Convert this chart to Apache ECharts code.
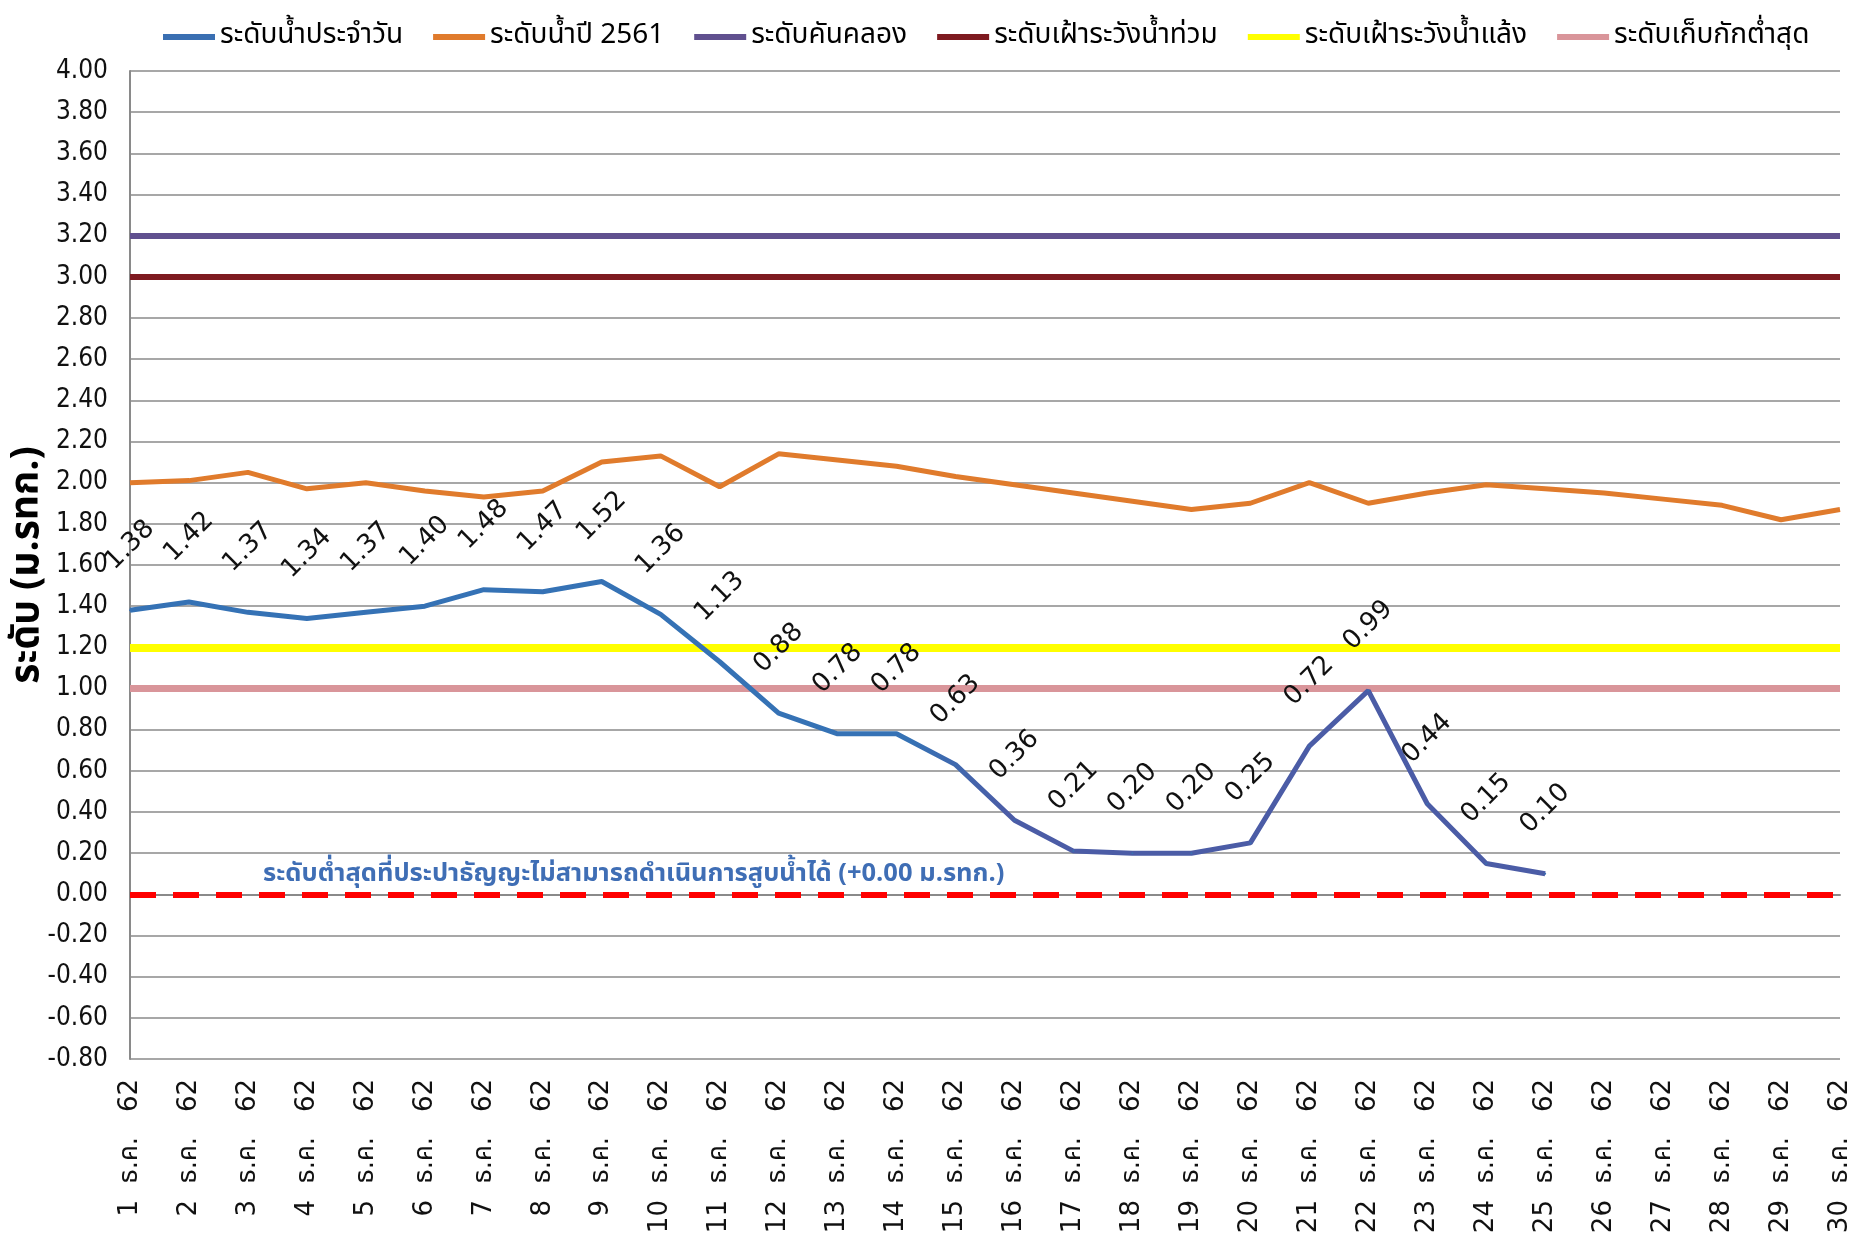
<!DOCTYPE html>
<html>
<head>
<meta charset="utf-8">
<title>ระดับน้ำ ธ.ค. 62</title>
<script src="https://cdn.jsdelivr.net/npm/echarts@6/dist/echarts.min.js"></script>
<style>
  html, body { margin: 0; padding: 0; background: #fff; }
  #chart { width: 1859px; height: 1251px; }
</style>
</head>
<body>
<div id="chart"></div>
<script>
// วันที่ (แกน X)
var days = [
  '1  ธ.ค.   62', '2  ธ.ค.   62', '3  ธ.ค.   62', '4  ธ.ค.   62', '5  ธ.ค.   62',
  '6  ธ.ค.   62', '7  ธ.ค.   62', '8  ธ.ค.   62', '9  ธ.ค.   62', '10  ธ.ค.   62',
  '11  ธ.ค.   62', '12  ธ.ค.   62', '13  ธ.ค.   62', '14  ธ.ค.   62', '15  ธ.ค.   62',
  '16  ธ.ค.   62', '17  ธ.ค.   62', '18  ธ.ค.   62', '19  ธ.ค.   62', '20  ธ.ค.   62',
  '21  ธ.ค.   62', '22  ธ.ค.   62', '23  ธ.ค.   62', '24  ธ.ค.   62', '25  ธ.ค.   62',
  '26  ธ.ค.   62', '27  ธ.ค.   62', '28  ธ.ค.   62', '29  ธ.ค.   62', '30  ธ.ค.   62'
];

// ระดับน้ำประจำวัน
var dailyLevel = [
  1.38, 1.42, 1.37, 1.34, 1.37, 1.40, 1.48, 1.47, 1.52, 1.36,
  1.13, 0.88, 0.78, 0.78, 0.63, 0.36, 0.21, 0.20, 0.20, 0.25,
  0.72, 0.99, 0.44, 0.15, 0.10, null, null, null, null, null
];

// ระดับน้ำปี 2561
var level2561 = [
  2.00, 2.01, 2.05, 1.97, 2.00, 1.96, 1.93, 1.96, 2.10, 2.13,
  1.98, 2.14, 2.11, 2.08, 2.03, 1.99, 1.95, 1.91, 1.87, 1.90,
  2.00, 1.90, 1.95, 1.99, 1.97, 1.95, 1.92, 1.89, 1.82, 1.87
];

// ระดับอ้างอิง
var bankLevel = 3.20;
var floodWatch = 3.00;
var droughtWatch = 1.20;
var minStorage = 1.00;
var pumpMin = 0.00;

var yMin = -0.8, yMax = 4.0, yStep = 0.2;

var thaiFont = 'Tahoma, "Noto Sans Thai", "Noto Sans", sans-serif';

function refLine(name, value, color, width) {
  return {
    name: name,
    type: 'line',
    data: [],
    color: color,
    lineStyle: { color: color, width: width },
    itemStyle: { color: color },
    markLine: {
      silent: true,
      symbol: 'none',
      label: { show: false },
      lineStyle: { color: color, width: width, type: 'solid' },
      emphasis: { disabled: true },
      data: [{ yAxis: value }]
    }
  };
}

var chart = echarts.init(document.getElementById('chart'));

var option = {
  backgroundColor: '#fff',
  animation: false,
  legend: {
    top: 18,
    left: 158,
    icon: 'rect',
    itemWidth: 52,
    itemHeight: 6,
    itemGap: 30,
    textStyle: { fontSize: 28, color: '#000', fontFamily: thaiFont },
    data: ['ระดับน้ำประจำวัน', 'ระดับน้ำปี 2561', 'ระดับคันคลอง',
           'ระดับเฝ้าระวังน้ำท่วม', 'ระดับเฝ้าระวังน้ำแล้ง', 'ระดับเก็บกักต่ำสุด']
  },
  grid: { left: 130, right: 19, top: 71, bottom: 192, containLabel: false, outerBoundsMode: 'none' },
  xAxis: {
    type: 'category',
    boundaryGap: false,
    data: days,
    axisLine: { lineStyle: { color: '#8a8a8a', width: 2 } },
    axisTick: { show: false },
    axisLabel: {
      interval: 0,
      rotate: 90,
      margin: 20,
      fontSize: 26,
      color: '#111',
      fontFamily: '"DejaVu Sans", ' + thaiFont
    }
  },
  yAxis: {
    type: 'value',
    min: yMin,
    max: yMax,
    interval: yStep,
    name: 'ระดับ (ม.รทก.)',
    nameLocation: 'middle',
    nameGap: 100,
    nameMoveOverlap: false,
    nameTextStyle: {
      fontSize: 39, fontWeight: 'bold', color: '#000', fontFamily: thaiFont,
      verticalAlign: 'middle'
    },
    axisLine: { show: true, lineStyle: { color: '#8a8a8a', width: 2 } },
    axisTick: { show: false },
    axisLabel: {
      margin: 22,
      fontSize: 26,
      color: '#111',
      fontFamily: '"DejaVu Sans Condensed", "Liberation Sans Narrow", sans-serif',
      formatter: function (v) {
        if (Math.abs(v) < 1e-9) v = 0;
        return v.toFixed(2);
      }
    },
    splitLine: { lineStyle: { color: '#8a8a8a', width: 1.5 } }
  },
  series: [
    {
      name: 'ระดับน้ำประจำวัน',
      type: 'line',
      data: dailyLevel,
      color: '#3A6FB2',
      symbol: 'circle',
      symbolSize: 2,
      itemStyle: { color: '#3A6FB2' },
      lineStyle: {
        width: 5,
        color: new echarts.graphic.LinearGradient(0, 0, 1, 0, [
          { offset: 0, color: '#3572B5' },
          { offset: 0.55, color: '#3572B5' },
          { offset: 0.62, color: '#4B5CA6' },
          { offset: 1, color: '#4B5CA6' }
        ])
      },
      label: {
        show: true,
        position: 'top',
        distance: 64,
        rotate: 45,
        align: 'center',
        verticalAlign: 'middle',
        fontSize: 26,
        color: '#111',
        fontFamily: '"DejaVu Sans", sans-serif',
        formatter: function (p) { return p.value == null ? '' : p.value.toFixed(2); }
      },
      z: 10
    },
    {
      name: 'ระดับน้ำปี 2561',
      type: 'line',
      data: level2561,
      color: '#E07B2C',
      symbol: 'none',
      lineStyle: { width: 5, color: '#E07B2C' },
      itemStyle: { color: '#E07B2C' },
      z: 3
    },
    refLine('ระดับคันคลอง', bankLevel, '#60508F', 6),
    refLine('ระดับเฝ้าระวังน้ำท่วม', floodWatch, '#7E1A20', 6),
    refLine('ระดับเฝ้าระวังน้ำแล้ง', droughtWatch, '#FFFF00', 8),
    refLine('ระดับเก็บกักต่ำสุด', minStorage, '#D9959A', 7),
    {
      name: 'pumpMin',
      type: 'line',
      data: [],
      markLine: {
        silent: true,
        symbol: 'none',
        label: { show: false },
        lineStyle: { color: '#FF0000', width: 6, type: [26, 17] },
        data: [{ yAxis: pumpMin }]
      }
    }
  ],
  graphic: [
    {
      type: 'text',
      x: 263,
      y: 876,
      style: {
        text: 'ระดับต่ำสุดที่ประปาธัญญะไม่สามารถดำเนินการสูบน้ำได้ (+0.00 ม.รทก.)',
        fill: '#3F6EB5',
        fontSize: 25.5,
        fontWeight: 'bold',
        fontFamily: thaiFont,
        textAlign: 'left',
        textVerticalAlign: 'middle'
      }
    }
  ]
};

chart.setOption(option);
</script>
</body>
</html>
